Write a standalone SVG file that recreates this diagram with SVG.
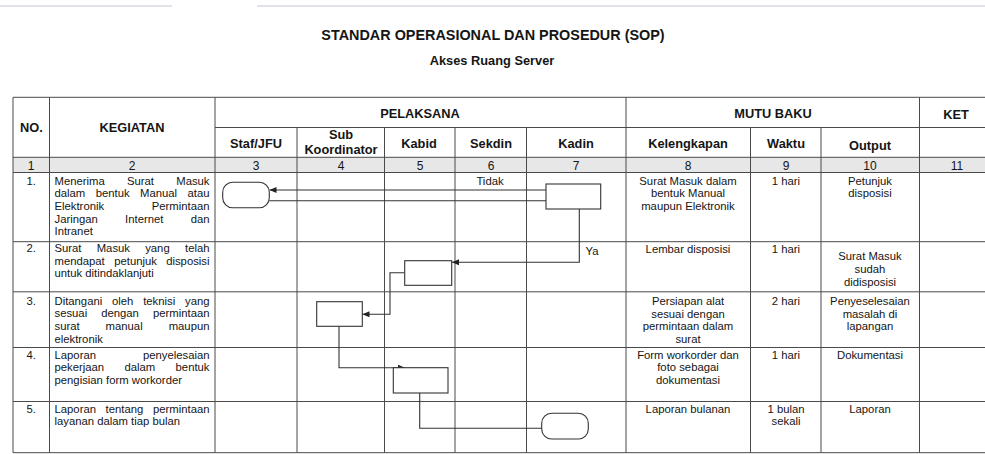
<svg xmlns="http://www.w3.org/2000/svg" width="985" height="454" viewBox="0 0 985 454">
<style>
text{font-family:"Liberation Sans",Arial,sans-serif;font-size:11.3px;fill:#151515}
.b{font-weight:bold;font-size:12.8px}
.n{font-size:12px}
.c{text-anchor:middle}
.e{text-anchor:end}
.g line{stroke:#4a4a4a;stroke-width:1}
.sh{fill:#fff;stroke:#333;stroke-width:1.1}
.cn{fill:none;stroke:#333;stroke-width:1.1}
</style>
<defs>
<marker id="ah" markerUnits="userSpaceOnUse" markerWidth="8" markerHeight="7" refX="7" refY="3" orient="auto">
<path d="M0,0 L7,3 L0,6 z" fill="#222"/>
</marker>
</defs>
<rect width="985" height="454" fill="#fff"/>
<line x1="0" y1="6" x2="172" y2="6" stroke="#d6d9e0" stroke-width="1.5"/>
<line x1="257" y1="6" x2="985" y2="6" stroke="#d6d9e0" stroke-width="1.5"/>
<text class="b c" x="493" y="40" style="font-size:14.4px">STANDAR OPERASIONAL DAN PROSEDUR (SOP)</text>
<text class="b c" x="492" y="65" style="font-size:12.8px">Akses Ruang Server</text>

<g id="grid" class="g">
<rect x="13" y="157.3" width="972" height="15.2" fill="#e7e7e7"/>
<line x1="13" y1="97.3" x2="985" y2="97.3"/>
<line x1="215" y1="127.5" x2="985" y2="127.5"/>
<line x1="13" y1="157.3" x2="985" y2="157.3"/>
<line x1="13" y1="172.5" x2="985" y2="172.5"/>
<line x1="13" y1="241.7" x2="985" y2="241.7"/>
<line x1="13" y1="291.8" x2="985" y2="291.8"/>
<line x1="13" y1="347.5" x2="985" y2="347.5"/>
<line x1="13" y1="401.5" x2="985" y2="401.5"/>
<line x1="13" y1="452.7" x2="985" y2="452.7"/>
<line x1="13" y1="97.3" x2="13" y2="452.7"/>
<line x1="49.5" y1="97.3" x2="49.5" y2="452.7"/>
<line x1="215" y1="97.3" x2="215" y2="452.7"/>
<line x1="297" y1="127.5" x2="297" y2="452.7"/>
<line x1="384.5" y1="127.5" x2="384.5" y2="452.7"/>
<line x1="455" y1="127.5" x2="455" y2="452.7"/>
<line x1="526.5" y1="127.5" x2="526.5" y2="452.7"/>
<line x1="626" y1="97.3" x2="626" y2="452.7"/>
<line x1="750.5" y1="127.5" x2="750.5" y2="452.7"/>
<line x1="821" y1="127.5" x2="821" y2="452.7"/>
<line x1="919.5" y1="97.3" x2="919.5" y2="452.7"/>
</g>

<g id="header">
<text class="b c" x="31.5" y="131.5">NO.</text>
<text class="b c" x="132" y="131.5">KEGIATAN</text>
<text class="b c" x="420" y="118">PELAKSANA</text>
<text class="b c" x="773" y="118">MUTU BAKU</text>
<text class="b c" x="956" y="119">KET</text>
<text class="b c" x="256" y="148">Staf/JFU</text>
<text class="b c" x="341" y="139">Sub</text>
<text class="b c" x="341" y="154">Koordinator</text>
<text class="b c" x="419" y="148">Kabid</text>
<text class="b c" x="491" y="148">Sekdin</text>
<text class="b c" x="576" y="148">Kadin</text>
<text class="b c" x="688" y="148">Kelengkapan</text>
<text class="b c" x="786" y="148">Waktu</text>
<text class="b c" x="870" y="150">Output</text>
<text class="n c" x="31" y="170">1</text>
<text class="n c" x="132" y="170">2</text>
<text class="n c" x="256" y="170">3</text>
<text class="n c" x="341" y="170">4</text>
<text class="n c" x="420" y="170">5</text>
<text class="n c" x="491" y="170">6</text>
<text class="n c" x="576" y="170">7</text>
<text class="n c" x="688" y="170">8</text>
<text class="n c" x="786" y="170">9</text>
<text class="n c" x="870" y="170">10</text>
<text class="n c" x="957" y="170">11</text>
</g>

<g id="row1">
<text x="26.5" y="184.5">1.</text>
<text x="54.5" y="184.5">Menerima</text><text x="127" y="184.5">Surat</text><text class="e" x="209.5" y="184.5">Masuk</text>
<text x="54.5" y="197.2">dalam</text><text x="95.7" y="197.2">bentuk</text><text x="140" y="197.2">Manual</text><text class="e" x="209.5" y="197.2">atau</text>
<text x="54.5" y="209.9">Elektronik</text><text class="e" x="209.5" y="209.9">Permintaan</text>
<text x="54.5" y="222.6">Jaringan</text><text x="125.1" y="222.6">Internet</text><text class="e" x="209.5" y="222.6">dan</text>
<text x="54.5" y="235.3">Intranet</text>
<text class="c" x="688" y="184.5">Surat Masuk dalam</text>
<text class="c" x="688" y="197.2">bentuk Manual</text>
<text class="c" x="688" y="209.9">maupun Elektronik</text>
<text class="c" x="786" y="184.5">1 hari</text>
<text class="c" x="870" y="184.5">Petunjuk</text>
<text class="c" x="870" y="197.2">disposisi</text>
</g>

<g id="row2">
<text x="26.5" y="252">2.</text>
<text x="54.5" y="252">Surat</text><text x="96.7" y="252">Masuk</text><text x="145.2" y="252">yang</text><text class="e" x="209.5" y="252">telah</text>
<text x="54.5" y="264.7">mendapat</text><text x="114.2" y="264.7">petunjuk</text><text class="e" x="209.5" y="264.7">disposisi</text>
<text x="54.5" y="277.4">untuk ditindaklanjuti</text>
<text class="c" x="688" y="252.5">Lembar disposisi</text>
<text class="c" x="786" y="252.5">1 hari</text>
<text class="c" x="870" y="260">Surat Masuk</text>
<text class="c" x="870" y="273">sudah</text>
<text class="c" x="870" y="286">didisposisi</text>
</g>

<g id="row3">
<text x="26.5" y="304.5">3.</text>
<text x="54.5" y="304.5">Ditangani</text><text x="112" y="304.5">oleh</text><text x="143.2" y="304.5">teknisi</text><text class="e" x="209.5" y="304.5">yang</text>
<text x="54.5" y="317.2">sesuai</text><text x="101.2" y="317.2">dengan</text><text class="e" x="209.5" y="317.2">permintaan</text>
<text x="54.5" y="329.9">surat</text><text x="105.6" y="329.9">manual</text><text class="e" x="209.5" y="329.9">maupun</text>
<text x="54.5" y="342.6">elektronik</text>
<text class="c" x="688" y="305">Persiapan alat</text>
<text class="c" x="688" y="317.7">sesuai dengan</text>
<text class="c" x="688" y="330.4">permintaan dalam</text>
<text class="c" x="688" y="343.1">surat</text>
<text class="c" x="786" y="305">2 hari</text>
<text class="c" x="870" y="305">Penyeselesaian</text>
<text class="c" x="870" y="317.7">masalah di</text>
<text class="c" x="870" y="330.4">lapangan</text>
</g>

<g id="row4">
<text x="26.5" y="358.5">4.</text>
<text x="54.5" y="358.5">Laporan</text><text class="e" x="209.5" y="358.5">penyelesaian</text>
<text x="54.5" y="371.2">pekerjaan</text><text x="124.4" y="371.2">dalam</text><text class="e" x="209.5" y="371.2">bentuk</text>
<text x="54.5" y="383.9">pengisian form workorder</text>
<text class="c" x="688" y="358.5">Form workorder dan</text>
<text class="c" x="688" y="371.2">foto sebagai</text>
<text class="c" x="688" y="383.9">dokumentasi</text>
<text class="c" x="786" y="358.5">1 hari</text>
<text class="c" x="870" y="358.5">Dokumentasi</text>
</g>

<g id="row5">
<text x="26.5" y="412.5">5.</text>
<text x="54.5" y="412.5">Laporan</text><text x="105.6" y="412.5">tentang</text><text class="e" x="209.5" y="412.5">permintaan</text>
<text x="54.5" y="425.2">layanan dalam tiap bulan</text>
<text class="c" x="688" y="412.5">Laporan bulanan</text>
<text class="c" x="786" y="412.5">1 bulan</text>
<text class="c" x="786" y="425.2">sekali</text>
<text class="c" x="870" y="412.5">Laporan</text>
</g>

<g id="connectors">
<path class="cn" d="M546,190 L269.5,190" marker-end="url(#ah)"/>
<path class="cn" d="M269.3,200.7 L546,200.7"/>
<path class="cn" d="M579.3,209 L579.3,262.3 L452,262.3" marker-end="url(#ah)"/>
<path class="cn" d="M404.7,272.7 L390,272.7 L390,314.3 L362.5,314.3" marker-end="url(#ah)"/>
<path class="cn" d="M339,326.3 L339,367.7 L405,367.7" marker-end="url(#ah)"/>
<path class="cn" d="M419.7,393 L419.7,428.3 L541.7,428.3"/>
<text class="c" x="490" y="184.5">Tidak</text>
<text class="c" x="592" y="255">Ya</text>
</g>

<g id="start"><rect class="sh" x="222.7" y="182.3" width="46.6" height="25.4" rx="10" ry="10"/></g>
<g id="kadin"><rect class="sh" x="546" y="184" width="54.7" height="25"/></g>
<g id="kabid1"><rect class="sh" x="404.7" y="260.7" width="47" height="24.6"/></g>
<g id="sub"><rect class="sh" x="316.7" y="301.7" width="45.6" height="24.6"/></g>
<g id="kabid2"><rect class="sh" x="393.3" y="367.7" width="54.7" height="25.3"/></g>
<g id="end"><rect class="sh" x="541.7" y="413.3" width="46.6" height="25.7" rx="10" ry="10"/></g>
</svg>
